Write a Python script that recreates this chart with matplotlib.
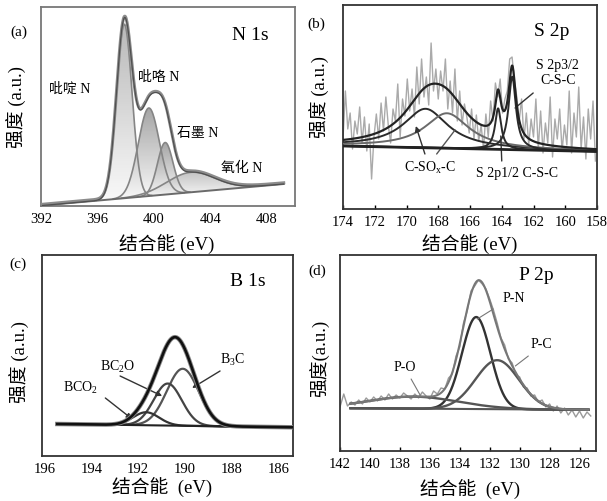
import numpy as np
import matplotlib
matplotlib.use("Agg")
import matplotlib.pyplot as plt
from matplotlib.colors import LinearSegmentedColormap

plt.rcParams['font.family'] = ['Liberation Serif', 'Noto Sans CJK SC']
plt.rcParams['mathtext.fontset'] = 'stix'

W, H = 607, 502

# ---- (a) N 1s : gaussian components on a linear background ----
n1s_range = (392.1, 409.2)
n1s_base = (0.5, 22.0)
n1s_names = ['吡啶 N', '吡咯 N', '石墨 N', '氧化 N']
n1s_center = [397.9, 399.64, 400.8, 402.6]
n1s_height = [174, 88, 52, 20]
n1s_sigma = [0.55, 0.75, 0.55, 1.7]
n1s_shade = ['#a8a8a8', '#8e8e8e', '#8e8e8e', '#b4b4b4']

# ---- (b) S 2p : lorentzian components + raw counts ----
s2p_range = (174.0, 158.0)
s2p_base = (63.0, 57.5)
s2p_center = [168.8, 167.45, 164.23, 163.34]
s2p_height = [39, 35, 41, 73]
s2p_fwhm = [3.4, 3.4, 0.46, 0.56]
s2p_color = ['#2a2a2a', '#6a6a6a', '#2a2a2a', '#2a2a2a']
s2p_raw = [70, 118, 80, 96, 60, 88, 75, 102, 66, 92, 58, 85, 30, 72, 95, 70,
           106, 78, 112, 84, 66, 100, 88, 125, 72, 110, 93, 130, 98, 120, 92,
           142, 105, 150, 112, 132, 104, 166, 118, 140, 110, 138, 118, 150, 100,
           128, 96, 140, 88, 118, 84, 105, 92, 76, 100, 70, 94, 68, 84, 60, 95,
           72, 108, 88, 126, 112, 130, 96, 110, 118, 150, 152, 128, 112, 88, 110,
           70, 96, 64, 90, 72, 110, 60, 98, 56, 86, 66, 112, 52, 90, 70, 100, 58,
           84, 64, 118, 56, 96, 72, 122, 60, 92, 50, 100, 70, 108, 48]
s2p_raw_range = (174.0, 158.1)

# ---- (c) B 1s ----
b1s_range = (195.45, 185.4)
b1s_base = (32.0, 28.7)
b1s_names = [r'$\mathregular{B_3C}$', r'$\mathregular{BC_2O}$', r'$\mathregular{BCO_2}$']
b1s_center = [190.1, 190.74, 191.66]
b1s_height = [57, 42, 13]
b1s_sigma = [0.68, 0.6, 0.55]
b1s_color = ['#555555', '#444444', '#333333']

# ---- (d) P 2p ----
p2p_range = (141.3, 125.4)
p2p_base = (42.8, 41.2)
p2p_names = ['P-N', 'P-C', 'P-O']
p2p_center = [132.9, 131.5, 137.1]
p2p_height = [92, 49, 12]
p2p_sigma = [0.95, 1.45, 3.0]
p2p_color = ['#333333', '#555555', '#555555']
p2p_raw = [44, 57, 45, 49, 46, 51, 47, 53, 49, 54, 50, 55, 51, 57, 52, 56, 53,
           58, 55, 52, 57, 53, 59, 55, 52, 60, 57, 63, 62, 73, 77, 95, 104, 128,
           140, 160, 165, 171, 167, 162, 152, 141, 128, 113, 106, 92, 88, 76, 74,
           64, 63, 55, 56, 49, 51, 44, 47, 40, 45, 38, 43, 36, 41, 34, 40, 33, 39, 35]
p2p_raw_range = (142.0, 125.25)


def gauss(x, c, h, s):
    return h * np.exp(-(x - c) ** 2 / (2 * s ** 2))


def lorentz(x, c, h, w):
    return h / (1 + ((x - c) / (w / 2)) ** 2)


def fig_ax(left, top, right, bottom):
    return fig.add_axes([left / W, 1 - bottom / H, (right - left) / W, (bottom - top) / H])


def ftext(x, y, s, **kw):
    fig.text(x / W, 1 - y / H, s, ha='center', va='center', **kw)


def style(ax, xlim, ylim, ticks, spine='#333333', ticklen=3):
    ax.set_xlim(*xlim)
    ax.set_ylim(*ylim)
    ax.set_xticks(ticks)
    ax.set_yticks([])
    ax.tick_params(axis='x', direction='in', length=ticklen, width=1, pad=4, labelsize=10.5)
    for sp in ax.spines.values():
        sp.set_color(spine)
        sp.set_linewidth(1.3)


def shade(ax, x, lo, hi, top):
    poly = ax.fill_between(x, lo, hi, facecolor='none', edgecolor='none')
    path = poly.get_paths()[0]
    cmap = LinearSegmentedColormap.from_list('g', ['#f8f8f8', top])
    grad = np.linspace(0, 1, 256).reshape(-1, 1)
    im = ax.imshow(grad, cmap=cmap, origin='lower', aspect='auto', alpha=0.8,
                   extent=[x.min(), x.max(), lo.min(), hi.max()], zorder=1)
    im.set_clip_path(path, transform=ax.transData)


def arrow(ax, tail, head, color='#333333', lw=1.0, head_on=True):
    ax.annotate('', xy=head, xytext=tail,
                arrowprops=dict(arrowstyle='-|>' if head_on else '-', color=color,
                                lw=lw, mutation_scale=8, shrinkA=0, shrinkB=0))


fig = plt.figure(figsize=(W / 100, H / 100), dpi=100)
lab = dict(fontsize=10)

# (a)
ax = fig_ax(41, 8, 295, 207)
x = np.linspace(*n1s_range, 600)
base = np.linspace(*n1s_base, x.size)
env = base.copy()
for c, h, s, col in zip(n1s_center, n1s_height, n1s_sigma, n1s_shade):
    comp = gauss(x, c, h, s)
    env += comp
    m = comp > 0.3
    shade(ax, x[m], base[m], base[m] + comp[m], col)
    ax.plot(x[m], base[m] + comp[m], color='#858585', lw=1.2, zorder=2)
ax.plot(x, base, color='#6a6a6a', lw=1.4, zorder=3)
ax.plot(x, env + 1.2, color='#8c8c8c', lw=2.2, zorder=3)
ax.plot(x, env, color='#505050', lw=0.9, zorder=4)
style(ax, (392.1, 410.0), (0, 199), [392, 396, 400, 404, 408], spine='#777777', ticklen=0)
pos = [(394.0, 118), (400.36, 130), (403.07, 74), (406.2, 39)]
for name, (px, py) in zip(n1s_names, pos):
    ax.text(px, py, name, ha='center', va='center', **lab)
ax.text(406.8, 172, 'N 1s', ha='center', va='center', fontsize=14)

# (b)
ax = fig_ax(343, 6, 597, 210)
x = np.linspace(174.0, 158.0, 800)
base = np.linspace(*s2p_base, x.size)
xr = np.linspace(*s2p_raw_range, len(s2p_raw))
ax.plot(xr, s2p_raw, color='#aaaaaa', lw=1.0, zorder=1)
env = base.copy()
for c, h, w, col in zip(s2p_center, s2p_height, s2p_fwhm, s2p_color):
    comp = lorentz(x, c, h, w)
    env += comp
    ax.plot(x, base + comp, color=col, lw=1.4, zorder=3)
ax.plot(x, env, color='#222222', lw=1.6, zorder=4)
ax.plot(x, base, color='#222222', lw=2.0, zorder=4)
style(ax, s2p_range, (0, 204), list(range(174, 157, -2)))
ax.text(160.88, 178, 'S 2p', ha='center', va='center', fontsize=14)
ax.text(160.47, 136.5, 'S 2p3/2\nC-S-C', ha='center', va='center', linespacing=1.2, **lab)
ax.text(168.52, 42, r'C-SO$\mathregular{_x}$-C', ha='center', va='center', **lab)
ax.text(163.03, 37, 'S 2p1/2 C-S-C', ha='center', va='center', **lab)
arrow(ax, (162.02, 116), (163.16, 101), head_on=False)
arrow(ax, (168.84, 55), (169.41, 83))
arrow(ax, (168.1, 55), (166.94, 79), color='#555555', head_on=False)
arrow(ax, (164.0, 48), (164.06, 73), head_on=False)

# (c)
ax = fig_ax(42, 256, 293, 457)
x = np.linspace(*b1s_range, 600)
base = np.linspace(*b1s_base, x.size)
env = base.copy()
for c, h, s, col in zip(b1s_center, b1s_height, b1s_sigma, b1s_color):
    comp = gauss(x, c, h, s)
    env += comp
    ax.plot(x, base + comp, color=col, lw=1.6, zorder=3)
ax.plot(x, base, color='#222222', lw=1.5, zorder=3)
ax.plot(x, env, color='#8a8a8a', lw=3.2, zorder=4)
ax.plot(x, env, color='#111111', lw=1.9, zorder=5)
style(ax, (196.1, 185.4), (0, 201), [196, 194, 192, 190, 188, 186], ticklen=0)
ax.text(187.32, 176, 'B 1s', ha='center', va='center', fontsize=14)
for name, (px, py) in zip(b1s_names, [(187.96, 97), (192.89, 90), (194.47, 69)]):
    ax.text(px, py, name, ha='center', va='center', **lab)
arrow(ax, (188.51, 85), (189.70, 68))
arrow(ax, (192.77, 80), (190.98, 60))
arrow(ax, (193.4, 58), (192.26, 37))

# (d)
ax = fig_ax(340, 256, 596, 452)
x = np.linspace(*p2p_range, 600)
base = np.linspace(*p2p_base, x.size)
xr = np.linspace(*p2p_raw_range, len(p2p_raw))
ax.plot(xr, p2p_raw, color='#9a9a9a', lw=1.0, zorder=1)
env = base.copy()
for c, h, s, col in zip(p2p_center, p2p_height, p2p_sigma, p2p_color):
    comp = gauss(x, c, h, s)
    env += comp
    ax.plot(x, base + comp, color=col, lw=1.7, zorder=3)
ax.plot(x, base, color='#555555', lw=1.5, zorder=3)
ax.plot(x, env, color='#777777', lw=1.5, zorder=4)
style(ax, (142.0, 124.9), (0, 196), list(range(142, 125, -2)))
ax.text(128.88, 176, 'P 2p', ha='center', va='center', fontsize=14)
for name, (px, py) in zip(p2p_names, [(130.36, 154), (128.55, 107), (137.66, 84)]):
    ax.text(px, py, name, ha='center', va='center', **lab)
arrow(ax, (131.76, 142), (132.83, 132), color='#777777', lw=0.8, head_on=False)
arrow(ax, (129.42, 95), (130.29, 85), color='#777777', lw=0.8, head_on=False)
arrow(ax, (137.25, 72), (136.65, 56), color='#777777', lw=0.8, head_on=False)

# panel letters and axis titles
for s, px, py in [('(a)', 19, 32), ('(b)', 316, 24), ('(c)', 18, 264), ('(d)', 317, 271)]:
    ftext(px, py, s, fontsize=11)
for s, px, py in [('强度 (a.u.)', 17, 107), ('强度 (a.u.)', 320, 97),
                  ('强度 (a.u.)', 20, 362), ('强度(a.u.)', 320, 358)]:
    ftext(px, py, s, fontsize=13.5, rotation=90)
for s, px, py in [('结合能 (eV)', 167, 245), ('结合能 (eV)', 470, 245),
                  ('结合能  (eV)', 162, 488), ('结合能  (eV)', 470, 490)]:
    ftext(px, py, s, fontsize=13.5)

fig.savefig('out.png', dpi=100)
